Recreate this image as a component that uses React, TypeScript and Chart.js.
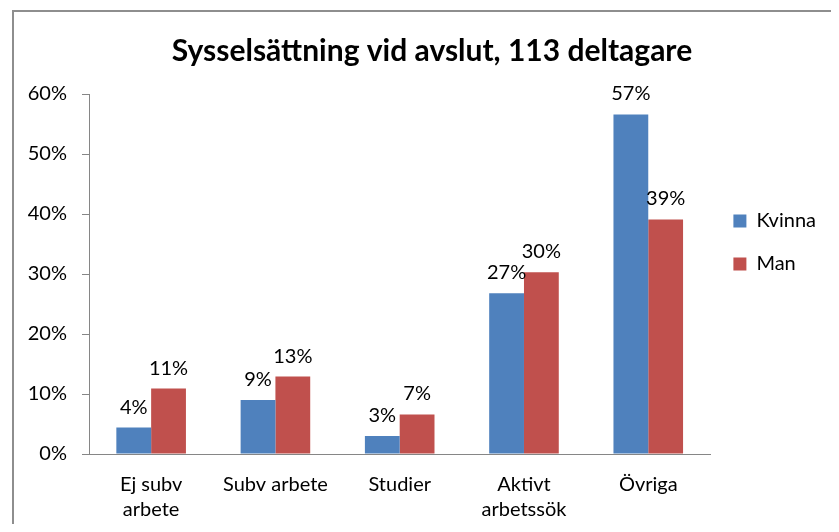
import React, { useEffect, useRef } from "react";
import { Chart, registerables } from "chart.js";

Chart.register(...registerables);

const titleText = "Sysselsättning vid avslut, 113 deltagare";
const categories: (string | string[])[] = [["Ej subv", "arbete"], "Subv arbete", "Studier", ["Aktivt", "arbetssök"], "Övriga"];
const seriesNames = ["Kvinna", "Man"];
const kvinna = [4.4, 9.0, 3.0, 26.8, 56.6];
const man = [10.9, 12.9, 6.6, 30.3, 39.1];
const yMin = 0;
const yMax = 60;
const yStep = 10;

const FONT = "Lato, 'Open Sans', sans-serif";
const CANVAS_W = 864;
const CANVAS_H = 532;
const LEGEND_EXTRA = 38;

const barLabels = {
  id: "barLabels",
  afterDatasetsDraw(chart: any) {
    const ctx = chart.ctx;
    ctx.save();
    ctx.font = `20px ${FONT}`;
    ctx.fillStyle = "#000";
    ctx.textAlign = "center";
    ctx.textBaseline = "alphabetic";
    chart.data.datasets.forEach((ds: any, i: number) => {
      const meta = chart.getDatasetMeta(i);
      meta.data.forEach((el: any, j: number) => {
        ctx.fillText(Math.round(ds.data[j]) + "%", el.x, el.y - 14);
      });
    });
    ctx.restore();
  },
};

// widen the legend box (empty space to the right of its items)
const legendSpace = {
  id: "legendSpace",
  beforeLayout(chart: any) {
    const lg = chart.legend;
    if (lg && !lg.__widened) {
      const orig = lg.fit.bind(lg);
      lg.fit = () => {
        orig();
        lg.width += LEGEND_EXTRA;
      };
      lg.__widened = true;
    }
  },
};

export default function App() {
  const ref = useRef<HTMLCanvasElement | null>(null);
  useEffect(() => {
    if (!ref.current) return;
    const chart = new Chart(ref.current, {
      type: "bar",
      data: {
        labels: categories,
        datasets: [
          { label: seriesNames[0], data: kvinna, backgroundColor: "#4F81BD", borderWidth: 0 },
          { label: seriesNames[1], data: man, backgroundColor: "#C0504D", borderWidth: 0 },
        ],
      },
      plugins: [barLabels, legendSpace],
      options: {
        animation: false,
        responsive: false,
        maintainAspectRatio: false,
        datasets: { bar: { categoryPercentage: 0.56, barPercentage: 1 } },
        layout: { padding: { left: 0, right: 0, top: 0, bottom: 0 } },
        plugins: {
          title: {
            display: true,
            text: titleText,
            color: "#000",
            font: { family: FONT, size: 30, weight: "bold", lineHeight: 1.2 },
            padding: { top: 33, bottom: 25 },
          },
          legend: {
            position: "right",
            align: "start",
            title: { display: true, text: " ", font: { size: 10, lineHeight: 1 }, padding: { top: 178, bottom: 0 } },
            labels: {
              color: "#000",
              boxWidth: 13,
              boxHeight: 13,
              padding: 23,
              font: { family: FONT, size: 20 },
            },
          },
          tooltip: { enabled: false },
        },
        scales: {
          x: {
            grid: { display: false, offset: true, drawTicks: true, tickLength: 7, color: "#868686" },
            border: { display: true, color: "#868686", width: 1 },
            ticks: { color: "#000", font: { family: FONT, size: 20, lineHeight: 1.25 }, padding: 11, maxRotation: 0, autoSkip: false },
            afterFit(scale: any) { scale.height = 78; },
          },
          y: {
            min: yMin,
            max: yMax,
            grid: { display: true, drawOnChartArea: false, tickLength: 7, color: "#868686" },
            border: { display: true, color: "#868686", width: 1 },
            ticks: {
              stepSize: yStep,
              color: "#000",
              padding: 15,
              font: { family: FONT, size: 20 },
              callback: (v: any) => v + "%",
            },
            afterFit(scale: any) { scale.width = 89; },
          },
        },
      },
    });
    return () => chart.destroy();
  }, []);

  return (
    <div style={{ position: "relative", margin: -8, width: 839, height: 532, overflow: "hidden", background: "#fff" }}>
      <div style={{ position: "absolute", left: 12, top: 10, width: 900, height: 600, border: "2px solid #8e8e8e" }} />
      <canvas ref={ref} width={CANVAS_W} height={CANVAS_H} style={{ position: "absolute", left: 0, top: 0, width: CANVAS_W, height: CANVAS_H }} />
    </div>
  );
}
